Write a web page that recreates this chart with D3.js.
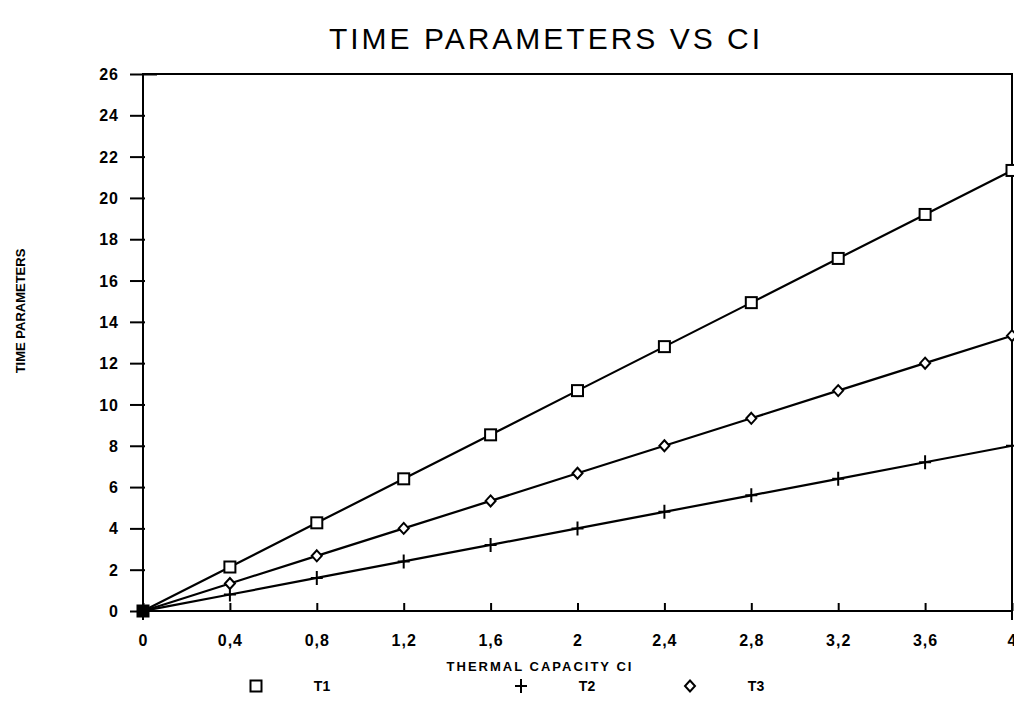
<!DOCTYPE html>
<meta charset="utf-8">
<style>
body { margin: 0; background: #fff; }
svg { font-family: "Liberation Sans", Arial, sans-serif; }
.tick text { font-size: 16px; font-weight: bold; letter-spacing: 1px; }
</style>
<body>
<script src="https://d3js.org/d3.v7.min.js"></script>
<script>

// thermal capacity CI values and the three time parameters
var ci = [0, 0.1, 0.4, 0.8, 1.2, 1.6, 2, 2.4, 2.8, 3.2, 3.6, 4];
var t1 = [0, 0.53, 2.13, 4.27, 6.4, 8.53, 10.67, 12.8, 14.93, 17.07, 19.2, 21.33];
var t2 = [0, 0.2, 0.8, 1.6, 2.4, 3.2, 4.0, 4.8, 5.6, 6.4, 7.2, 8.0];
var t3 = [0, 0.33, 1.33, 2.67, 4.0, 5.33, 6.67, 8.0, 9.33, 10.67, 12.0, 13.33];
var seriesNames = ["T1", "T2", "T3"];
var xTicks = [0, 0.4, 0.8, 1.2, 1.6, 2, 2.4, 2.8, 3.2, 3.6, 4];
var yTicks = [0, 2, 4, 6, 8, 10, 12, 14, 16, 18, 20, 22, 24, 26];

var W = 1014, H = 707;
var margin = {top: 74, right: 2, bottom: 96, left: 143},
    width = W - margin.left - margin.right,
    height = H - margin.top - margin.bottom;

var svg = d3.select("body").append("svg")
    .attr("width", W)
    .attr("height", H);

var g = svg.append("g")
    .attr("transform", "translate(" + margin.left + "," + margin.top + ")");

var x = d3.scaleLinear().domain([0, 4]).range([0, width]);
var y = d3.scaleLinear().domain([0, 26]).range([height, 0]);

// frame
g.append("rect")
    .attr("width", width)
    .attr("height", height)
    .attr("fill", "none")
    .attr("stroke", "#000")
    .attr("stroke-width", 2);
g.append("line").attr("x1", 0).attr("x2", 0).attr("y1", height).attr("y2", height + 9)
    .attr("stroke", "#000").attr("stroke-width", 2);
g.append("line").attr("x1", width).attr("x2", width).attr("y1", height).attr("y2", height + 9)
    .attr("stroke", "#000").attr("stroke-width", 2);

var xAxis = d3.axisBottom(x).tickValues(xTicks)
    .tickSizeInner(-8).tickSizeOuter(0).tickPadding(24)
    .tickFormat(function(d) { return String(d).replace(".", ","); });
var gx = g.append("g")
    .attr("transform", "translate(0," + height + ")")
    .call(xAxis);
gx.select(".domain").remove();
gx.selectAll(".tick line").attr("stroke-width", 2);

var yAxis = d3.axisLeft(y).tickValues(yTicks)
    .tickSizeInner(13).tickSizeOuter(0).tickPadding(11);
var gy = g.append("g").call(yAxis);
gy.select(".domain").remove();
gy.selectAll(".tick line").attr("stroke-width", 2).attr("x2", -13).attr("x1", 2);
gy.selectAll(".tick text").attr("dy", "0.35em");
gy.selectAll(".tick line").filter(function(d) { return d === 26; }).attr("x1", 14);

var allSeries = [t1, t2, t3];
var line = d3.line()
    .x(function(d, i) { return x(ci[i]); })
    .y(function(d) { return y(d); });

allSeries.forEach(function(s) {
  g.append("path")
      .datum(s)
      .attr("fill", "none")
      .attr("stroke", "#000")
      .attr("stroke-width", 2.2)
      .attr("d", line);
});

function marker(sel, k) {
  if (k === 0) {
    sel.append("rect").attr("x", -5.5).attr("y", -5.5).attr("width", 11).attr("height", 11)
        .attr("fill", "#fff").attr("stroke", "#000").attr("stroke-width", 2);
  } else if (k === 1) {
    sel.append("path").attr("d", "M-6,0H6M0,-7V7")
        .attr("stroke", "#000").attr("stroke-width", 2);
  } else {
    sel.append("path").attr("d", "M0,-5.5L5,0L0,5.5L-5,0Z")
        .attr("fill", "#fff").attr("stroke", "#000").attr("stroke-width", 2);
  }
}

allSeries.forEach(function(s, k) {
  var pts = s.map(function(d, i) { return {x: ci[i], y: d}; })
      .filter(function(p) { return p.x !== 0.1; });
  g.selectAll(".m" + k)
      .data(pts)
    .enter().append("g")
      .attr("class", "m" + k)
      .attr("transform", function(d) { return "translate(" + x(d.x) + "," + y(d.y) + ")"; })
      .each(function() { marker(d3.select(this), k); });
});

// blob at the origin
g.append("rect").attr("x", -6).attr("y", -6).attr("width", 12).attr("height", 12)
    .attr("transform", "translate(" + x(0) + "," + y(0) + ")").attr("fill", "#000");

// title
svg.append("text")
    .attr("x", 546).attr("y", 49)
    .attr("text-anchor", "middle")
    .style("font-size", "30px")
    .style("letter-spacing", "3px")
    .text("TIME PARAMETERS VS CI");

// y axis label
svg.append("text")
    .attr("transform", "translate(25,311) rotate(-90)")
    .attr("text-anchor", "middle")
    .style("font-size", "13px")
    .style("font-weight", "bold")
    .text("TIME PARAMETERS");

// x axis label
svg.append("text")
    .attr("x", 540).attr("y", 671)
    .attr("text-anchor", "middle")
    .style("font-size", "13px")
    .style("font-weight", "bold")
    .style("letter-spacing", "2px")
    .text("THERMAL CAPACITY CI");

// legend
var legendX = [256, 521, 690];
var lg = svg.selectAll(".legend")
    .data(seriesNames)
  .enter().append("g")
    .attr("class", "legend")
    .attr("transform", function(d, i) { return "translate(" + legendX[i] + ",686)"; });
lg.each(function(d, i) { marker(d3.select(this), i); });
lg.append("text")
    .attr("x", 66).attr("y", 5)
    .attr("text-anchor", "middle")
    .style("font-size", "14px")
    .style("font-weight", "bold")
    .text(function(d) { return d; });

</script>
